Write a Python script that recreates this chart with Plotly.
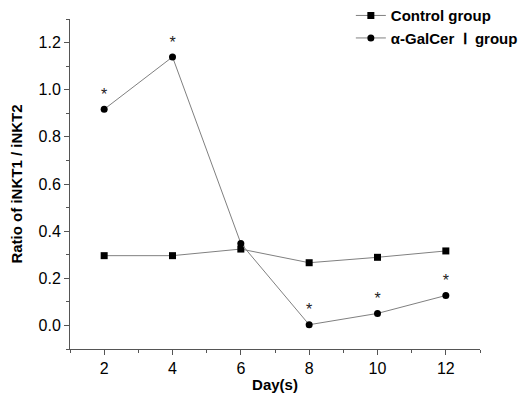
import plotly.graph_objects as go

days = [2, 4, 6, 8, 10, 12]
control = [0.296, 0.296, 0.324, 0.266, 0.289, 0.316]
galcer = [0.917, 1.139, 0.348, 0.003, 0.051, 0.127]
sig = ["*", "*", "", "*", "*", "*"]

fig = go.Figure()
fig.add_trace(go.Scatter(
    x=days, y=control, mode="lines+markers", name="Control group",
    line=dict(color="#808080", width=1),
    marker=dict(symbol="square", size=7, color="black"),
))
fig.add_trace(go.Scatter(
    x=days, y=galcer, mode="lines+markers+text", name="α-GalCer  Ⅰ  group",
    line=dict(color="#808080", width=1),
    marker=dict(symbol="circle", size=7, color="black"),
    text=sig, textposition="top center",
    textfont=dict(family="Liberation Sans, Arial", size=16, color="#222"),
))

fig.update_layout(
    width=527, height=393,
    margin=dict(l=70, r=47, t=19, b=44, autoexpand=False),
    paper_bgcolor="white", plot_bgcolor="white",
    font=dict(family="Liberation Sans, Arial", color="black"),
    showlegend=True,
    legend=dict(x=0.685, y=1.06, xanchor="left", yanchor="top",
                font=dict(size=15, family="Liberation Sans, Arial", weight="bold"),
                bgcolor="rgba(0,0,0,0)", tracegroupgap=0, itemwidth=30),
    xaxis=dict(range=[1, 13], tickvals=[2, 4, 6, 8, 10, 12],
               showline=True, linecolor="#555", linewidth=1,
               ticks="outside", ticklen=5, tickcolor="#555",
               minor=dict(tickvals=[1, 3, 5, 7, 9, 11, 13], ticks="outside", ticklen=3, tickcolor="#555"),
               showgrid=False, zeroline=False,
               tickfont=dict(size=16),
               title=dict(text="Day(s)", font=dict(size=15, weight="bold"), standoff=17),
               automargin=False),
    yaxis=dict(range=[-0.1, 1.3], tickvals=[0, 0.2, 0.4, 0.6, 0.8, 1.0, 1.2],
               ticktext=["0.0", "0.2", "0.4", "0.6", "0.8", "1.0", "1.2"],
               showline=True, linecolor="#555", linewidth=1,
               ticks="outside", ticklen=5, tickcolor="#555",
               minor=dict(tickvals=[-0.1, 0.1, 0.3, 0.5, 0.7, 0.9, 1.1, 1.3], ticks="outside", ticklen=3, tickcolor="#555"),
               showgrid=False, zeroline=False,
               tickfont=dict(size=16),
               title=dict(text="Ratio of iNKT1 / iNKT2", font=dict(size=15, weight="bold"), standoff=12),
               automargin=False),
)

fig.write_html("out.html")
